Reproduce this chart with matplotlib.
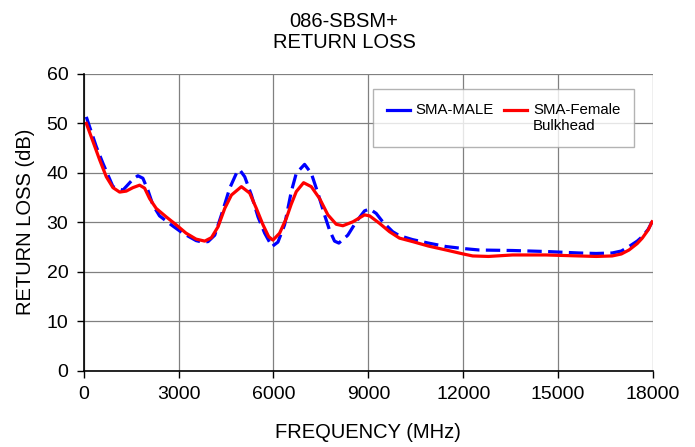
import matplotlib
matplotlib.use("Agg")
import matplotlib.pyplot as plt
from matplotlib.legend_handler import HandlerLine2D

plt.rcParams['font.family'] = ['Liberation Sans', 'DejaVu Sans']

# SMA-MALE (blue dashed)
male_freq = [85, 400, 612, 928, 1243, 1559, 1716, 1874, 2032, 2190, 2400, 2767,
             3136, 3556, 3750, 3935, 4146, 4357, 4619, 4830, 4935, 5093, 5304,
             5513, 5724, 5955, 6143, 6354, 6565, 6723, 6985, 7197, 7406, 7616,
             7775, 7932, 8068, 8352, 8616, 8880, 9040, 9248, 9455, 9771, 9982,
             10400, 10900, 11460, 12000, 12510, 13560, 14610, 15660, 16200,
             16710, 17000, 17240, 17500, 17660, 17850, 17970]
male_rl = [51.3, 45.3, 41.9, 37.2, 36.5, 38.7, 39.4, 38.9, 36.5, 33.5, 31.3, 29.5,
           27.8, 26.3, 26.0, 26.1, 27.4, 31.5, 36.9, 39.9, 40.6, 39.2, 35.5,
           31.1, 27.8, 25.1, 26.0, 29.5, 36.2, 39.9, 41.7, 39.9, 35.9, 31.5,
           28.4, 26.2, 25.8, 27.4, 30.1, 32.3, 32.7, 31.8, 30.1, 28.1, 27.3,
           26.5, 25.8, 25.1, 24.7, 24.4, 24.3, 24.1, 23.8, 23.7,
           23.8, 24.2, 25.1, 26.2, 27.1, 28.6, 30.1]

# SMA-Female Bulkhead (red solid)
female_freq = [85, 297, 508, 717, 928, 1139, 1348, 1559, 1770, 1928, 2085, 2295,
               2610, 2925, 3240, 3556, 3830, 4041, 4250, 4461, 4672, 4988, 5250,
               5461, 5670, 5850, 5985, 6196, 6408, 6560, 6723, 6954, 7197, 7460,
               7722, 7986, 8196, 8512, 8880, 9040, 9352, 9670, 9985, 10400, 10900,
               11460, 12000, 12300, 12800, 13560, 14610, 15660, 16200, 16710,
               17000, 17240, 17500, 17660, 17850, 17970]
female_rl = [50.0, 46.3, 42.6, 39.2, 37.0, 36.1, 36.3, 37.0, 37.5, 36.9, 34.8, 32.8,
             31.1, 29.5, 27.8, 26.6, 26.2, 26.9, 29.1, 32.8, 35.5, 37.2, 35.9,
             32.8, 29.5, 27.1, 26.4, 27.8, 30.8, 33.6, 36.2, 38.0, 37.2, 34.8,
             31.5, 29.6, 29.3, 30.1, 31.5, 31.3, 29.8, 28.1, 26.8, 26.1, 25.2,
             24.4, 23.6, 23.2, 23.1, 23.4, 23.4, 23.2, 23.1, 23.2,
             23.6, 24.4, 25.7, 26.8, 28.5, 30.1]

x_ticks = [0, 3000, 6000, 9000, 12000, 15000, 18000]
y_ticks = [0, 10, 20, 30, 40, 50, 60]


class RaisedLine(HandlerLine2D):
    # put the legend line level with the first line of a two-line label
    def create_artists(self, legend, orig_handle, xdescent, ydescent,
                       width, height, fontsize, trans):
        arts = super().create_artists(legend, orig_handle, xdescent, ydescent,
                                      width, height, fontsize, trans)
        for a in arts:
            a.set_ydata([y + 0.57 * fontsize for y in a.get_ydata()])
            a.set_linestyle('-')
        return arts


fig = plt.figure(figsize=(6.95, 4.47), dpi=100)
ax = fig.add_axes([0.1203, 0.1705, 0.8193, 0.6644])

ax.plot(male_freq, male_rl, color='#0000FF', lw=2.3, dashes=(4.5, 2),
        label='SMA-MALE\n ')
ax.plot(female_freq, female_rl, color='#FF0000', lw=2.3,
        solid_joinstyle='round', label='SMA-Female\nBulkhead')

ax.set_xlim(0, 18000)
ax.set_ylim(0, 60)
ax.set_xticks(x_ticks)
ax.set_yticks(y_ticks)
ax.tick_params(labelsize=14, direction='out', length=5, width=1,
               color='black', pad=6)
ax.grid(True, color='#808080', lw=0.9)
ax.set_axisbelow(True)
for s in ['top', 'right']:
    ax.spines[s].set_visible(False)
for s in ['left', 'bottom']:
    ax.spines[s].set_color('black')
    ax.spines[s].set_linewidth(1.2)

ax.set_xlabel('FREQUENCY (MHz)', fontsize=14.5, labelpad=14)
ax.set_ylabel('RETURN LOSS (dB)', fontsize=14.5, labelpad=8)

fig.text(0.495, 0.953, '086-SBSM+', ha='center', va='center', fontsize=14.5)
fig.text(0.495, 0.905, 'RETURN LOSS', ha='center', va='center', fontsize=14.5)

leg = ax.legend(loc='upper left', bbox_to_anchor=(0.508, 0.95), ncol=2,
                fontsize=10.8, frameon=True, fancybox=False, borderpad=0.95,
                handlelength=1.5, handletextpad=0.4, columnspacing=0.7,
                borderaxespad=0, handler_map={plt.Line2D: RaisedLine()})
leg.get_frame().set_edgecolor('#A0A0A0')
leg.get_frame().set_linewidth(1.0)

fig.savefig('out.png', dpi=100)
